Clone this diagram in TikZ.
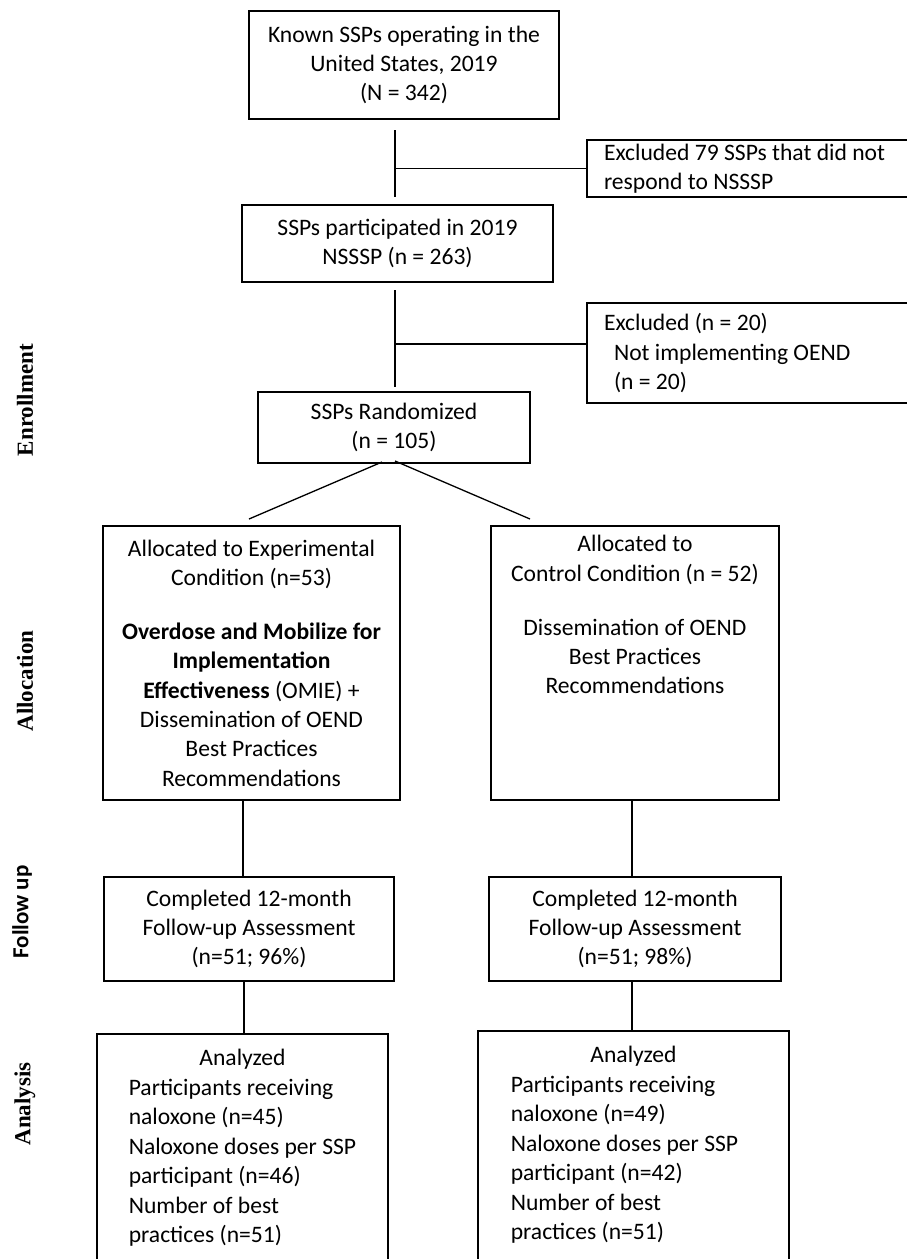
\documentclass[tikz,border=0pt]{standalone}
\usepackage{fontspec}
\setmainfont{Carlito}
\newfontfamily\tnr{Liberation Serif}
\begin{document}
\begin{tikzpicture}[x=1pt,y=-1pt,
  boxbase/.style={draw, line width=1.4pt, inner sep=0pt, font=\fontsize{23.6}{29.3}\selectfont},
  box/.style={boxbase, align=center},
  lbox/.style={boxbase, align=flush left, text width=309pt},
  conn/.style={line width=1.3pt},
  side/.style={rotate=90, font=\fontsize{23}{28}\selectfont\tnr\bfseries},
  sideb/.style={rotate=90, font=\fontsize{23}{28}\selectfont\bfseries}]
\useasboundingbox (0,0) rectangle (907,1259);
\clip (0,0) rectangle (907,1259);

% boxes
\node[box, minimum width=310pt, minimum height=108pt] (b1) at (404,65)
  {Known SSPs operating in the\\United States, 2019\\(N = 342)};
\node[lbox, minimum width=343pt, minimum height=57pt] (ex1) at (758.5,168.5)
  {Excluded 79 SSPs that did not\\respond to NSSSP};
\node[box, minimum width=311pt, minimum height=77pt] (b2) at (397.5,243.5)
  {SSPs participated in 2019\\NSSSP (n = 263)};
\node[lbox, minimum width=343pt, minimum height=100pt] (ex2) at (758.5,353)
  {Excluded (n = 20)\\\hspace*{10pt}Not implementing OEND\\\hspace*{10pt}(n = 20)};
\node[box, minimum width=272pt, minimum height=71pt] (b3) at (394,427.5)
  {SSPs Randomized\\(n = 105)};

\node[box, minimum width=297pt, minimum height=274pt] (b4L) at (251.5,663)
  {Allocated to Experimental\\Condition (n=53)\\[25pt]\textbf{Overdose and Mobilize for}\\\textbf{Implementation}\\\textbf{Effectiveness} (OMIE) +\\Dissemination of OEND\\Best Practices\\Recommendations};
\node[box, minimum width=288pt, minimum height=274pt] (b4R) at (635,663)
  {Allocated to\\Control Condition (n = 52)\\[25pt]Dissemination of OEND\\Best Practices\\Recommendations\\\strut\\\strut\\\strut};

\node[box, minimum width=290pt, minimum height=104pt] (b5L) at (249,929)
  {Completed 12-month\\Follow-up Assessment\\(n=51; 96\%)};
\node[box, minimum width=292pt, minimum height=104pt] (b5R) at (635,929)
  {Completed 12-month\\Follow-up Assessment\\(n=51; 98\%)};

\node[boxbase, font=\fontsize{23.6}{29.5}\selectfont, minimum width=291pt, minimum height=229pt] (b6L) at (242.5,1148.5)
  {\begin{tabular}{@{}l@{}}\multicolumn{1}{@{}c@{}}{Analyzed}\\Participants receiving\\naloxone (n=45)\\Naloxone doses per SSP\\participant (n=46)\\Number of best\\practices (n=51)\end{tabular}};
\node[boxbase, font=\fontsize{23.6}{29.5}\selectfont, minimum width=311pt, minimum height=229pt] (b6R) at (633.5,1145.5)
  {\begin{tabular}{@{}l@{\hspace{18pt}}}\multicolumn{1}{@{}c@{}}{Analyzed}\\Participants receiving\\naloxone (n=49)\\Naloxone doses per SSP\\participant (n=42)\\Number of best\\practices (n=51)\end{tabular}};

% connectors
\coordinate (v1a) at (395,130);
\coordinate (v1b) at (395,197);
\draw[conn] (v1a) -- (v1b);
\draw[conn] (v1a |- ex1.west) -- (ex1.west);

\coordinate (v2a) at (395,290);
\coordinate (v2b) at (395,387);
\coordinate (h2) at (395,344);
\draw[conn] (v2a) -- (v2b);
\draw[conn] (h2) -- (h2 -| ex2.west);

\coordinate (d1) at (382,462);
\coordinate (d2) at (395,461);
\coordinate (dl) at (249,519);
\coordinate (dr) at (530,519);
\draw[conn] (d1) -- (dl);
\draw[conn] (d2) -- (dr);

\coordinate (cL) at (243,0);
\coordinate (cR) at (632,0);
\coordinate (cL2) at (244,0);
\draw[conn] (b4L.south -| cL) -- (b5L.north -| cL);
\draw[conn] (b4R.south -| cR) -- (b5R.north -| cR);
\draw[conn] (b5L.south -| cL2) -- (b6L.north -| cL2);
\draw[conn] (b5R.south -| cR) -- (b6R.north -| cR);

% side labels
\node[side] (lenr) at (25,400) {Enrollment};
\node[side] (lall) at (25,681) {Allocation};
\node[sideb] (lfu) at (22,912) {Follow up};
\node[side] (lana) at (25,1104) {Analysis};
\end{tikzpicture}
\end{document}
